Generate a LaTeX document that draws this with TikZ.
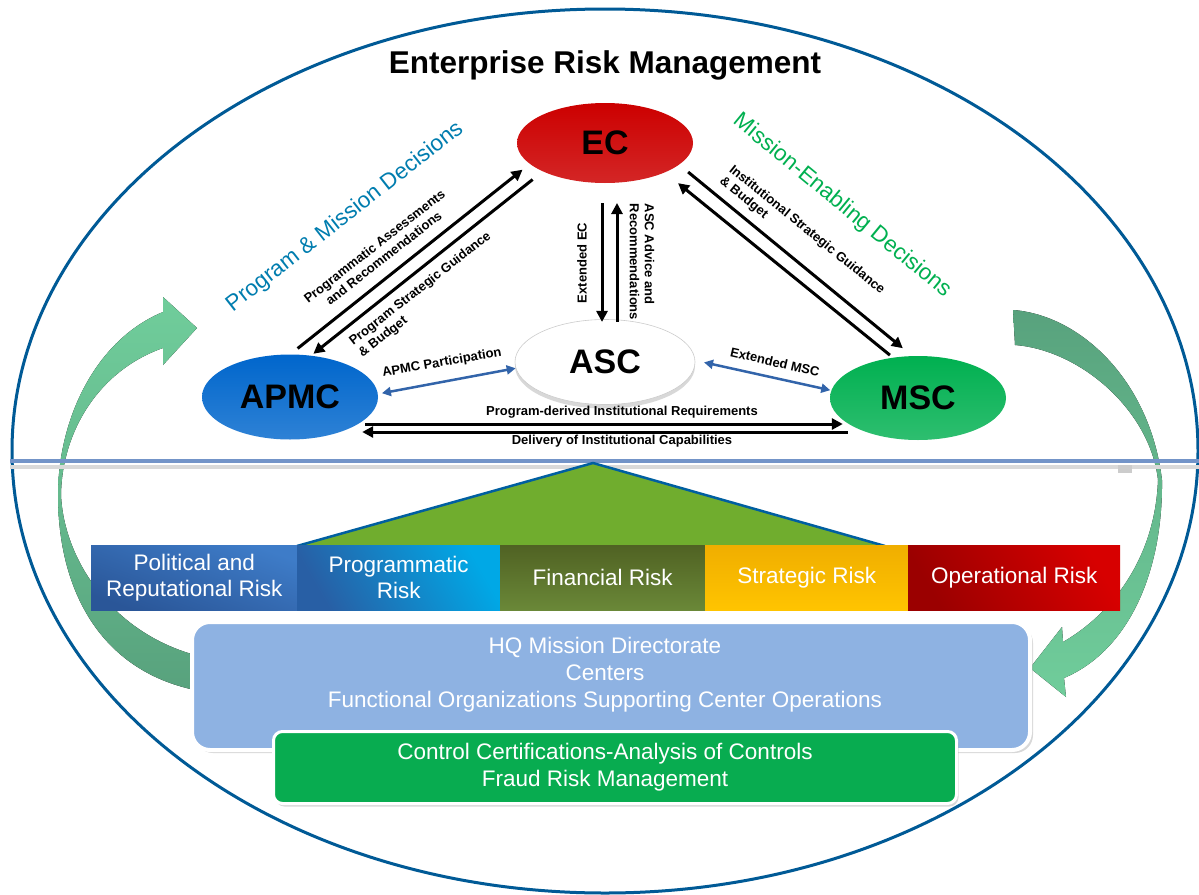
\documentclass[tikz,border=0pt]{standalone}
\usepackage{fontspec}
\setmainfont{Liberation Sans}
\usetikzlibrary{shapes.geometric,arrows.meta,calc,shadows}
\definecolor{ecred}{RGB}{204,0,0}
\definecolor{apblue}{RGB}{0,102,204}
\definecolor{msgreen}{RGB}{0,176,80}
\definecolor{ringblue}{RGB}{0,90,150}
\definecolor{pmblue}{RGB}{0,125,175}
\definecolor{megreen}{RGB}{0,176,80}
\definecolor{arrblue}{RGB}{50,100,170}
\definecolor{divblue}{RGB}{115,148,200}
\definecolor{trigreen}{RGB}{112,173,46}
\definecolor{triedge}{RGB}{0,95,160}
\definecolor{hqblue}{RGB}{142,178,226}
\definecolor{ccgreen}{RGB}{8,172,80}
\definecolor{arlight}{RGB}{112,205,155}
\definecolor{ardark}{RGB}{88,162,125}
\definecolor{r1a}{RGB}{62,124,200}\definecolor{r1b}{RGB}{42,86,152}
\definecolor{r2a}{RGB}{40,95,165}\definecolor{r2b}{RGB}{0,168,230}
\definecolor{r3a}{RGB}{80,98,35}\definecolor{r3b}{RGB}{106,136,56}
\definecolor{r4a}{RGB}{240,174,0}\definecolor{r4b}{RGB}{255,196,0}
\definecolor{r5a}{RGB}{155,0,0}\definecolor{r5b}{RGB}{215,0,0}
\tikzset{
  blk/.style={line width=3pt,-{Triangle[length=11pt,width=11pt]}},
  bluearr/.style={draw=arrblue,line width=2.5pt,{Triangle[length=9pt,width=9pt]}-{Triangle[length=9pt,width=9pt]}},
  lbl/.style={font=\bfseries\fontsize{13}{15}\selectfont,align=center,inner sep=0pt},
  ell/.style={ellipse,inner sep=0pt,minimum width=176pt,minimum height=82pt,font=\bfseries\fontsize{34}{36}\selectfont},
  risk/.style={anchor=north west,minimum height=65pt,inner sep=0pt,text=white,align=center,font=\fontsize{22.5}{26}\selectfont},
  bigtxt/.style={font=\fontsize{22.5}{26}\selectfont,inner sep=0pt},
  boxtxt/.style={text=white,align=center,font=\fontsize{22.5}{27}\selectfont,inner sep=0pt}
}
\begin{document}
\begin{tikzpicture}[x=1pt,y=-1pt]
\useasboundingbox (0,0) rectangle (1199,894);
\fill[white] (0,0) rectangle (1199,894);
% outer ring
\node[draw=ringblue,line width=3pt,ellipse,minimum width=1186pt,minimum height=884pt,inner sep=0pt] (ring) at (605,451) {};
% curved arrows
\fill[top color=arlight,bottom color=ardark,middle color=arlight!55!ardark]
 (163,312) -- (163,297) -- (197,328) -- (163,365) -- (163,348)
 .. controls (100,370) and (62,430) .. (61,495)
 .. controls (64,560) and (112,632) .. (195,655)
 -- (195,690)
 .. controls (100,670) and (58,590) .. (58,495)
 .. controls (58,420) and (95,340) .. (163,312) -- cycle;
\fill[top color=ardark,bottom color=arlight,middle color=arlight!55!ardark]
 (1013,310) .. controls (1080,315) and (1150,380) .. (1162,480)
 .. controls (1163,570) and (1130,650) .. (1064,678)
 -- (1066,697) -- (1030,668) -- (1062,627) -- (1063,642)
 .. controls (1110,615) and (1155,560) .. (1158,480)
 .. controls (1150,410) and (1080,350) .. (1015,345) -- cycle;
% divider
\draw[black!15,line width=4pt] (10,467) -- (1199,467);
\draw[divblue,line width=4pt] (10,461) -- (1199,461);
\fill[black!20] (1118,465) rectangle (1132,473);
% triangle
\fill[trigreen] (593,463) -- (297,546) -- (885,546) -- cycle;
\draw[triedge,line width=2.5pt,line join=round] (297,546) -- (593,463) -- (885,546);
% risk boxes
\node[risk,minimum width=206pt,top color=r1a,bottom color=r1b,shading angle=-20] (r1) at (91,545) {Political and\\Reputational Risk};
\node[risk,minimum width=203pt,left color=r2a,right color=r2b,shading angle=120] (r2) at (297,545) {Programmatic\\Risk};
\node[risk,minimum width=205pt,top color=r3a,bottom color=r3b] (r3) at (500,545) {Financial Risk};
\node[risk,minimum width=203pt,top color=r4a,bottom color=r4b] (r4) at (705,545) {Strategic Risk};
\node[risk,minimum width=212pt,left color=r5a,right color=r5b,shading angle=120] (r5) at (908,545) {Operational Risk};
% HQ box
\node[anchor=north west,draw=white,line width=4pt,rounded corners=18pt,fill=hqblue,minimum width=838pt,minimum height=128pt,
  drop shadow={shadow xshift=3pt,shadow yshift=-3pt,opacity=0.3}] (hq) at (190,620) {};
\node[boxtxt] (hqtext) at (605,675) {HQ Mission Directorate\\Centers\\Functional Organizations Supporting Center Operations};
% green box
\node[anchor=north west,draw=white,line width=3pt,rounded corners=9pt,fill=ccgreen,minimum width=683pt,minimum height=72pt,
  drop shadow={shadow xshift=2pt,shadow yshift=-3pt,opacity=0.3}] (cc) at (272,730) {};
\node[boxtxt] (cctext) at (605,767) {Control Certifications-Analysis of Controls\\Fraud Risk Management};
% ellipses
\node[ell,minimum height=80pt,top color=ecred,middle color=ecred,bottom color=ecred!85!white] (ec) at (605,143) {EC};
\node[ell,minimum height=85pt,top color=apblue,middle color=apblue,bottom color=apblue!82!white] (apmc) at (290,397) {APMC};
\node[ell,minimum width=180pt,minimum height=85pt,fill=white,draw=black!20,line width=0.6pt,
  drop shadow={shadow xshift=0pt,shadow yshift=-4pt,opacity=0.3}] (asc) at (605,362) {ASC};
\node[ell,minimum height=84pt,top color=msgreen,middle color=msgreen,bottom color=msgreen!82!white] (msc) at (918,398) {MSC};
% black arrows
\draw[blk] ($(apmc)!0.09!(ec)!33pt!90:(ec)$) -- ($(apmc)!0.80!(ec)!31pt!90:(ec)$);
\draw[blk] ($(apmc)!0.804!(ec)!17pt!90:(ec)$) -- ($(apmc)!0.112!(ec)!19pt!90:(ec)$);
\draw[blk] ($(ec)!0.205!(msc)!30pt!90:(msc)$) -- ($(ec)!0.893!(msc)!29pt!90:(msc)$);
\draw[blk] ($(ec)!0.879!(msc)!15.5pt!90:(msc)$) -- ($(ec)!0.203!(msc)!15pt!90:(msc)$);
\draw[blk] ($(ec)!0.274!(asc)!-3pt!90:(asc)$) -- ($(ec)!0.817!(asc)!-3pt!90:(asc)$);
\draw[blk] ($(ec)!0.817!(asc)!12pt!90:(asc)$) -- ($(ec)!0.274!(asc)!12pt!90:(asc)$);
\draw[blk] ($(apmc.east)+(-13,27)$) -- ($(msc.west)+(13,26)$);
\draw[blk] ($(msc.west)+(18,34)$) -- ($(apmc.east)+(-16,35)$);
% blue arrows
\draw[bluearr,shorten <=4pt] (apmc.2) -- (asc.184);
\draw[bluearr,shorten <=9pt,shorten >=1pt] (asc.1) -- (msc.175);
% labels
\node[lbl,rotate=38] (l1) at (379,252) {Programmatic Assessments\\and Recommendations};
\node[lbl,rotate=38,align=left] (l2) at (425,295) {Program Strategic Guidance\\\& Budget};
\node[lbl,rotate=-39,align=left] (l3) at (802,236) {Institutional Strategic Guidance\\\& Budget};
\node[lbl,rotate=90] (l4) at (582,263) {Extended EC};
\node[lbl,rotate=-90,align=left] (l5) at (642,262) {ASC Advice and\\Recommendations};
\node[lbl,rotate=10] (l6) at (442,363) {APMC Participation};
\node[lbl,rotate=-13] (l7) at (775,362) {Extended MSC};
\node[lbl] (l8) at (622,412) {Program-derived Institutional Requirements};
\node[lbl] (l9) at (622,441) {Delivery of Institutional Capabilities};
\node[bigtxt,text=pmblue,rotate=38] (pmd) at (345,217) {Program \& Mission Decisions};
\node[bigtxt,text=megreen,rotate=-39.5] (med) at (842,206) {Mission-Enabling Decisions};
% title
\node[font=\bfseries\fontsize{31.5}{34}\selectfont,inner sep=0pt] (title) at (605,65) {Enterprise Risk Management};
\end{tikzpicture}
\end{document}
